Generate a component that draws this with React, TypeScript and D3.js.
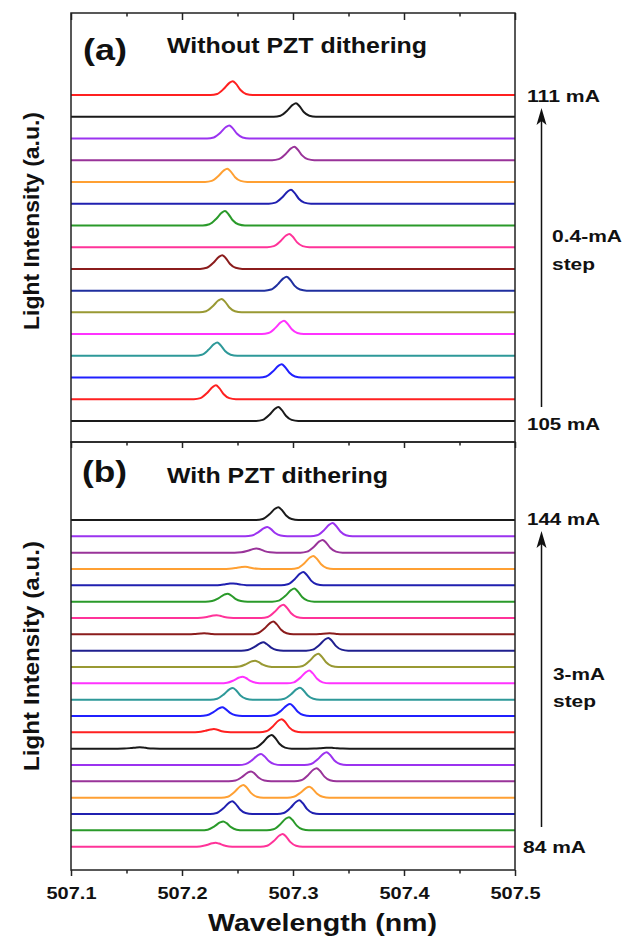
import React, { useEffect, useRef } from 'react';
import * as d3 from 'd3';

// wavelength axis
const xMajor = [507.1, 507.2, 507.3, 507.4, 507.5];
const xMinor = [507.15, 507.25, 507.35, 507.45];

// shared peak shape: [offset nm, relative height]
const peakProfile = [
  [-0.02, 0], [-0.014, 0.08], [-0.008, 0.45], [-0.003, 0.88], [0, 1],
  [0.003, 0.8], [0.007, 0.36], [0.012, 0.08], [0.018, 0],
];

// (a) without dithering, 105 mA -> 111 mA, 0.4 mA step (bottom to top)
const topCenters = [
  507.2868, 507.2306, 507.2898, 507.2318, 507.2919, 507.2357, 507.2943, 507.2363,
  507.2967, 507.2387, 507.2982, 507.2408, 507.3012, 507.2426, 507.3027, 507.2457,
];
const topHeights = [0.64, 0.64, 0.61, 0.61, 0.61, 0.62, 0.64, 0.63, 0.61, 0.66, 0.64, 0.61, 0.62, 0.6, 0.62, 0.64];
const topColors = [
  '#1a1a1a', '#ff2020', '#2020ff', '#2e9999', '#ff33ff', '#999933', '#1f2f9f', '#8b1c1c',
  '#ff3399', '#2a9a2a', '#2020b0', '#ffa033', '#993399', '#9b33f0', '#1a1a1a', '#ff2020',
];

// (b) with dithering, 84 mA -> 144 mA, 3 mA step (bottom to top): [center, height]
const bottomPeaks = [
  [[507.2303, 0.24], [507.2907, 0.78]],
  [[507.2372, 0.55], [507.2964, 0.81]],
  [[507.2453, 0.78], [507.3057, 0.84]],
  [[507.2553, 0.78], [507.3147, 0.67]],
  [[507.2622, 0.61], [507.3213, 0.81]],
  [[507.2712, 0.67], [507.3303, 0.78]],
  [[507.162, 0.09], [507.2808, 0.84], [507.333, 0.06]],
  [[507.2288, 0.2], [507.2898, 0.81]],
  [[507.2363, 0.53], [507.2973, 0.73]],
  [[507.2457, 0.72], [507.3063, 0.73]],
  [[507.2546, 0.41], [507.3147, 0.78]],
  [[507.2658, 0.39], [507.3228, 0.81]],
  [[507.2733, 0.51], [507.3318, 0.78]],
  [[507.22, 0.06], [507.2823, 0.78], [507.333, 0.06]],
  [[507.2312, 0.17], [507.2913, 0.81]],
  [[507.2411, 0.49], [507.3012, 0.8]],
  [[507.2462, 0.12], [507.3093, 0.81]],
  [[507.2568, 0.14], [507.3183, 0.8]],
  [[507.2673, 0.26], [507.3267, 0.78]],
  [[507.2769, 0.57], [507.3357, 0.81]],
  [[507.2868, 0.78]],
];
const bottomColors = [
  '#ff3399', '#2a9a2a', '#2020b0', '#ffa033', '#993399', '#9b33f0', '#1a1a1a',
  '#ff2020', '#2020ff', '#2e9999', '#ff33ff', '#999933', '#1f1f8f', '#8b1c1c',
  '#ff3399', '#2a9a2a', '#2020b0', '#ffa033', '#993399', '#9b33f0', '#1a1a1a',
];

const FONT = "'Liberation Sans', Arial, sans-serif";

const tracePoints = (peaks: number[][], off: number) => {
  const pts: [number, number][] = [[507.1, off], [507.5, off]];
  peaks.forEach(([c, h]) => {
    peakProfile.forEach(([dx, r]) => pts.push([c + dx, off + h * r]));
  });
  return pts.sort((a, b) => a[0] - b[0]);
};

const App = () => {
  const ref = useRef<SVGSVGElement>(null);

  useEffect(() => {
    const svg = d3.select(ref.current);
    svg.selectAll('*').remove();

    const left = 71, right = 515, top = 13, mid = 442, bottom = 870;
    const x = d3.scaleLinear().domain([507.1, 507.5]).range([left, right]);
    const yTop = d3.scaleLinear().domain([-0.966, 18.776]).range([mid, top]);
    const yBot = d3.scaleLinear().domain([-1.426, 24.775]).range([bottom, mid]);

    const drawTraces = (sets: number[][][], colors: string[], y: d3.ScaleLinear<number, number>) => {
      const line = d3
        .line<[number, number]>()
        .x((d) => x(d[0]))
        .y((d) => y(d[1]))
        .curve(d3.curveMonotoneX);
      sets.forEach((peaks, i) => {
        svg
          .append('path')
          .datum(tracePoints(peaks, i))
          .attr('fill', 'none')
          .attr('stroke', colors[i])
          .attr('stroke-width', 2)
          .attr('stroke-linejoin', 'round')
          .attr('d', line);
      });
    };

    drawTraces(topCenters.map((c, i) => [[c, topHeights[i]]]), topColors, yTop);
    drawTraces(bottomPeaks, bottomColors, yBot);

    // frames
    [[top, mid], [mid, bottom]].forEach(([y0, y1]) => {
      svg
        .append('rect')
        .attr('x', left)
        .attr('y', y0)
        .attr('width', right - left)
        .attr('height', y1 - y0)
        .attr('fill', 'none')
        .attr('stroke', '#222')
        .attr('stroke-width', 1.5);
    });

    const ticks = (yPos: number, major: number, minor: number, labels: boolean) => {
      const gMaj = svg
        .append('g')
        .attr('transform', `translate(0,${yPos})`)
        .call(
          d3
            .axisBottom(x)
            .tickValues(xMajor)
            .tickSize(major)
            .tickPadding(10.5)
            .tickFormat(labels ? d3.format('.1f') : () => '')
        );
      const gMin = svg
        .append('g')
        .attr('transform', `translate(0,${yPos})`)
        .call(d3.axisBottom(x).tickValues(xMinor).tickSize(minor).tickFormat(() => ''));
      [gMaj, gMin].forEach((g) => {
        g.select('.domain').remove();
        g.selectAll('line').attr('stroke', '#222').attr('stroke-width', 1.5);
      });
      gMaj
        .selectAll('text')
        .attr('fill', '#111')
        .attr('font-family', FONT)
        .attr('font-weight', 'bold')
        .attr('font-size', 17)
        .attr('textLength', 50)
        .attr('lengthAdjust', 'spacingAndGlyphs');
    };
    ticks(top, 7, 3.5, false);
    ticks(mid, 6, 3.5, false);
    ticks(bottom, 6, 3.5, true);

    const text = (
      s: string, tx: number, ty: number, size: number, len: number,
      anchor = 'start', rotate = false
    ) => {
      svg
        .append('text')
        .attr('transform', rotate ? `translate(${tx},${ty}) rotate(-90)` : `translate(${tx},${ty})`)
        .attr('text-anchor', anchor)
        .attr('font-family', FONT)
        .attr('font-weight', 'bold')
        .attr('font-size', size)
        .attr('fill', '#111')
        .attr('textLength', len)
        .attr('lengthAdjust', 'spacingAndGlyphs')
        .text(s);
    };

    text('(a)', 83, 60, 30, 44);
    text('Without PZT dithering', 167, 53, 22, 260);
    text('(b)', 82, 482, 30, 45);
    text('With PZT dithering', 167, 483, 22, 221);

    text('111 mA', 527, 102, 17, 73);
    text('105 mA', 527, 430, 17, 73);
    text('0.4-mA', 552, 242, 17, 70);
    text('step', 552, 270, 17, 43);
    text('144 mA', 527, 525, 17, 73);
    text('3-mA', 553, 680, 17, 52);
    text('step', 553, 707, 17, 43);
    text('84 mA', 523, 853, 17, 63);

    text('Light Intensity (a.u.)', 39, 221, 22, 218, 'middle', true);
    text('Light Intensity (a.u.)', 39, 656, 22, 230, 'middle', true);
    text('Wavelength (nm)', 322.5, 931, 24, 229, 'middle');

    // current-sweep arrows
    [[407, 108], [827, 531]].forEach(([y0, tip]) => {
      const ax = 541.5;
      svg
        .append('line')
        .attr('x1', ax)
        .attr('x2', ax)
        .attr('y1', y0)
        .attr('y2', tip + 12)
        .attr('stroke', '#111')
        .attr('stroke-width', 1.5);
      svg
        .append('path')
        .attr('d', `M${ax},${tip} L${ax - 5},${tip + 17} L${ax},${tip + 13} L${ax + 5},${tip + 17} Z`)
        .attr('fill', '#111');
    });
  }, []);

  return (
    <svg
      ref={ref}
      width={624}
      height={936}
      style={{ position: 'absolute', left: 0, top: 0, background: '#fff' }}
    />
  );
};

export default App;
